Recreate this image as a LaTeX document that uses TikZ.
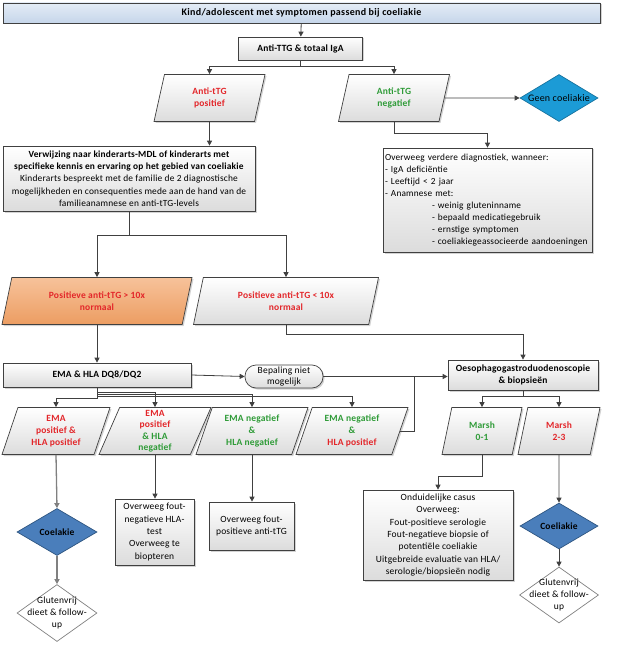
\documentclass[tikz,border=0pt]{standalone}
\usepackage{fontspec}
\setmainfont{Carlito}[LetterSpace=2]
\usetikzlibrary{shapes.geometric,shadows,arrows.meta}
\definecolor{linec}{HTML}{404040}
\definecolor{graylc}{HTML}{808080}
\definecolor{redt}{HTML}{E3262A}
\definecolor{greent}{HTML}{2E9B37}
\definecolor{boxbot}{HTML}{DCDCDC}
\definecolor{titletop}{HTML}{E4ECF6}
\definecolor{titlebot}{HTML}{C6D6EA}
\definecolor{orangetop}{HTML}{F7C29A}
\definecolor{orangebot}{HTML}{EC9D62}
\definecolor{cyanfill}{HTML}{1C9BD6}
\definecolor{cyanline}{HTML}{16729E}
\definecolor{steelfill}{HTML}{4A7EBB}
\definecolor{steelline}{HTML}{2E5580}
\newcommand{\fs}{\fontsize{9.5}{12.3}\selectfont}
\tikzset{
  base/.style={draw=linec, line width=0.7pt, top color=white, bottom color=boxbot,
    drop shadow={shadow xshift=1.5pt, shadow yshift=-1.5pt, opacity=0.35},
    inner sep=1pt, align=center, font=\fs},
  box/.style={base, rectangle, minimum width=#1},
  para/.style={base, trapezium, trapezium left angle=65, trapezium right angle=115,
    trapezium stretches body, minimum height=47pt, minimum width=#1},
  dia/.style={diamond, draw=linec, line width=0.7pt, inner sep=0pt},
  dlab/.style={align=center, font=\fontsize{9.5}{12}\selectfont},
  arr/.style={draw=linec, line width=0.8pt, -{Triangle[length=5pt,width=5pt]}},
  garr/.style={draw=graylc, line width=1.3pt, -{Triangle[length=5pt,width=5pt]}},
  plain/.style={draw=linec, line width=0.8pt},
  red/.style={text=redt, font=\fs\bfseries},
  grn/.style={text=greent, font=\fs\bfseries},
}
\begin{document}
\begin{tikzpicture}[x=1pt,y=-1pt]
\useasboundingbox (0,0) rectangle (626,663);
% top
\node[box=597pt, minimum height=20pt, top color=titletop, bottom color=titlebot, font=\fontsize{10}{12}\selectfont\bfseries\addfontfeature{LetterSpace=3}] (title) at (301.5,13) {Kind/adolescent met symptomen passend bij coeliakie};
\node[box=124pt, minimum height=23pt, font=\fs\bfseries] (anti) at (300.5,48.5) {Anti-TTG \& totaal IgA};
\node[para=111pt, red] (p1) at (209.5,98) {Anti-tTG\\positief};
\node[para=111pt, grn] (p2) at (394,98) {Anti-tTG\\negatief};
\node[dia, minimum width=78pt, minimum height=47pt, fill=cyanfill, draw=cyanline, label={[dlab, font=\fontsize{10}{12}\selectfont]center:Geen coeliakie}] (geen) at (559,98) {};
\node[box=252pt, minimum height=65pt, font=\fontsize{9.4}{12.3}\selectfont] (verw) at (129,178.5) {\textbf{Verwijzing naar kinderarts-MDL of kinderarts met}\\\textbf{specifieke kennis en ervaring op het gebied van coeliakie}\\Kinderarts bespreekt met de familie de 2 diagnostische\\mogelijkheden en consequenties mede aan de hand van de\\familieanamnese en anti-tTG-levels};
\node[box=209pt, minimum height=104pt, align=left, text width=205pt, inner xsep=0pt, font=\fontsize{9.3}{12}\selectfont] (verd) at (487.5,200) {Overweeg verdere diagnostiek, wanneer:\\- IgA deficiëntie\\- Leeftijd < 2 jaar\\- Anamnese met:\\\hspace*{47pt}- weinig gluteninname\\\hspace*{47pt}- bepaald medicatiegebruik\\\hspace*{47pt}- ernstige symptomen\\\hspace*{47pt}\mbox{- coeliakiegeassocieerde aandoeningen}};
\node[para=190pt, red, top color=orangetop, bottom color=orangebot] (p3) at (97,301) {Positieve anti-tTG > 10x\\normaal};
\node[para=185pt, red] (p4) at (286,301) {Positieve anti-tTG < 10x\\normaal};
\node[box=188pt, minimum height=24pt, font=\fs\bfseries] (ema) at (97,375) {EMA \& HLA DQ8/DQ2};
\node[base, rectangle, rounded corners=11pt, minimum width=78pt, minimum height=23pt, font=\fontsize{9.5}{11.5}\selectfont] (pill) at (284,376.5) {Bepaling niet\\mogelijk};
\node[box=150pt, minimum height=30pt, font=\fontsize{9.5}{12}\selectfont\bfseries] (oeso) at (523,375) {Oesophagogastroduodenoscopie\\\& biopsieën};
\node[para=108pt, red] (e1) at (56,431) {EMA\\positief \&\\HLA positief};
\node[para=112pt, font=\fontsize{9.5}{11.5}\selectfont\bfseries] (e2) at (155,431) {\textcolor{redt}{EMA}\\\textcolor{redt}{positief}\\\textcolor{greent}{\& HLA}\\\textcolor{greent}{negatief}};
\node[para=112pt, grn] (e3) at (252,431) {EMA negatief\\\&\\HLA negatief};
\node[para=112pt, font=\fs\bfseries] (e4) at (352,431) {\textcolor{greent}{EMA negatief}\\\textcolor{greent}{\&}\\\textcolor{redt}{HLA positief}};
\node[para=80pt, grn] (m1) at (482,431) {Marsh\\0-1};
\node[para=82pt, red] (m2) at (559,431) {Marsh\\2-3};
\node[box=79pt, minimum height=66pt] (hla) at (154.5,532) {Overweeg fout-\\negatieve HLA-\\test\\Overweeg te\\biopteren};
\node[box=85pt, minimum height=48pt] (ttg) at (251.5,526) {Overweeg fout-\\positieve anti-tTG};
\node[box=150pt, minimum height=90pt] (ond) at (438,535) {Onduidelijke casus\\Overweeg:\\Fout-positieve serologie\\Fout-negatieve biopsie of\\potentiële coeliakie\\Uitgebreide evaluatie van HLA/\\serologie/biopsieën nodig};
\node[dia, minimum width=80pt, minimum height=47pt, fill=steelfill, draw=steelline, label={[dlab, font=\fontsize{9.5}{12}\selectfont\bfseries]center:Coelakie}] (coell) at (57,532) {};
\node[dia, minimum width=80pt, minimum height=57pt, fill=white, draw=graylc, label={[dlab]center:{Glutenvrij\\dieet \& follow-\\up}}] (glutl) at (57,613) {};
\node[dia, minimum width=78pt, minimum height=46pt, fill=steelfill, draw=steelline, label={[dlab, font=\fontsize{9.5}{12}\selectfont\bfseries]center:Coeliakie}] (coelr) at (559,526) {};
\node[dia, minimum width=79pt, minimum height=56pt, fill=white, draw=graylc, label={[dlab]center:{Glutenvrij\\dieet \& follow-\\up}}] (glutr) at (559,595) {};
% connectors
\draw[arr] (title) -- (anti);
\draw[arr] (anti.south) -- ++(0,6) -| (p1.north);
\draw[arr] (anti.south) -- ++(0,6) -| (p2.north);
\draw[arr] (p2.east) -- (geen.west);
\draw[arr] (p2.south) -- ++(0,12) -| (verd.north);
\draw[arr] (p1.south) -- (p1.south |- verw.north);
\draw[arr] (verw.south) -- ++(0,24) -| (p3.north);
\draw[arr] (verw.south) -- ++(0,24) -| (p4.north);
\draw[arr] (p3.south) -- (p3.south |- ema.north);
\draw[arr] (p4.south) -- ++(0,10) -| (oeso.north);
\draw[arr] (ema.east) -- (pill.west);
\draw[arr] (pill.east) -- (pill.east -| oeso.west);
\draw[plain] (e4.east) -- ++(14,0) |- (pill.east -| 422,0);
\draw[arr] (ema.south) -- ++(0,11) -| (e1.north);
\draw[arr] (ema.south) -- ++(0,5) -| (e2.north);
\draw[arr] (ema.south) -- ++(0,7) -| (e3.north);
\draw[arr] (ema.south) -- ++(0,9) -| (e4.north);
\draw[arr] (oeso.south) -- ++(0,6) -| (m1.north);
\draw[arr] (oeso.south) -- ++(0,6) -| (m2.north);
\draw[arr] (m1.south) -- ++(0,22) -| (ond.north);
\draw[arr] (m2.south) -- (coelr.north);
\draw[arr] (coelr.south) -- (glutr.north);
\draw[garr] (e1.south) -- (coell.north);
\draw[garr] (coell.south) -- (glutl.north);
\draw[arr] (e2.south) -- (e2.south |- hla.north);
\draw[arr] (e3.south) -- (e3.south |- ttg.north);
\end{tikzpicture}
\end{document}
